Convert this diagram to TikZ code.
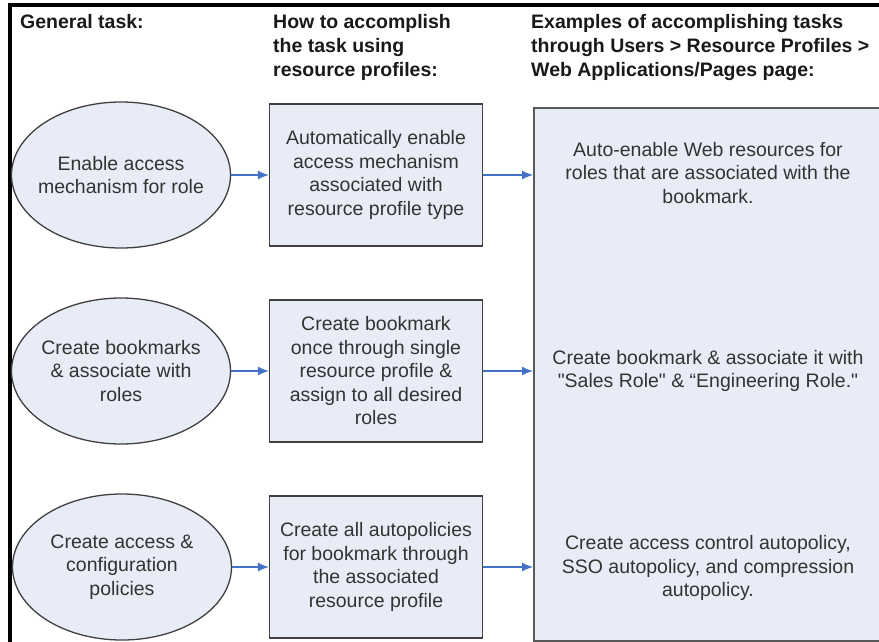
\documentclass[tikz,border=0pt]{standalone}
\usepackage{fontspec}
\setmainfont{Liberation Sans}
\usetikzlibrary{arrows.meta,shapes.geometric}
\definecolor{boxfill}{RGB}{232,236,246}
\definecolor{arrowblue}{RGB}{68,114,196}
\definecolor{edgegray}{RGB}{64,64,64}

\begin{document}
\begin{tikzpicture}[x=1pt, y=-1pt, >={Latex[length=11pt,width=9pt]},
    every node/.style={font=\fontsize{19.5}{23.5}\selectfont, text=black!80, inner sep=0pt},
    head/.style={anchor=north west, align=left, font=\fontsize{19.5}{24}\selectfont\bfseries, text=black!90},
    task/.style={ellipse, draw=edgegray, line width=1.3pt, fill=boxfill, inner sep=-15pt,
        minimum width=219pt, minimum height=146pt, align=center},
    howto/.style={rectangle, draw=edgegray, line width=1.3pt, fill=boxfill,
        minimum width=213pt, minimum height=142pt, align=center},
    link/.style={->, arrowblue, line width=1.2pt}]
    \useasboundingbox (0,0) rectangle (879,641);
    \clip (0,0) rectangle (879,641);

    \draw[line width=3.5pt, line cap=rect] (10,641) -- (10,5) -- (879,5);

    \node[draw=black!65, line width=1.5pt, fill=boxfill, anchor=north west,
        minimum width=360pt, minimum height=533pt] (examples) at (533,107) {};

    \node[head] (h1) at (20,14) {General task:};
    \node[head] (h2) at (273,14) {How to accomplish\\the task using\\resource profiles:};
    \node[head] (h3) at (531,14) {Examples of accomplishing tasks\\through Users > Resource Profiles >\\Web Applications/Pages page:};

    \node[task] (e1) at (121,175) {Enable access\\mechanism for role};
    \node[task] (e2) at (121,371) {Create bookmarks\\\& associate with\\roles};
    \node[task] (e3) at (122,567) {Create access \&\\configuration\\policies};

    \node[howto] (b1) at (376,175) {Automatically enable\\access mechanism\\associated with\\resource profile type};
    \node[howto] (b2) at (376,371) {Create bookmark\\once through single\\resource profile \&\\assign to all desired\\roles};
    \node[howto] (b3) at (376,567) {Create all autopolicies\\for bookmark through\\the associated\\resource profile};

    \node[align=center] (x1) at (708,173) {Auto-enable Web resources for\\roles that are associated with the\\bookmark.};
    \node[align=center] (x2) at (708,371) {Create bookmark \& associate it with\\\textquotedbl Sales Role\textquotedbl{} \& “Engineering Role.\textquotedbl};
    \node[align=center] (x3) at (708,568) {Create access control autopolicy,\\SSO autopolicy, and compression\\autopolicy.};

    \draw[link] (e1.east) -- (b1.west);
    \draw[link] (e2.east) -- (b2.west);
    \draw[link] (e3.east) -- (b3.west);
    \draw[link] (b1.east) -- (b1.east -| examples.west);
    \draw[link] (b2.east) -- (b2.east -| examples.west);
    \draw[link] (b3.east) -- (b3.east -| examples.west);
\end{tikzpicture}
\end{document}
